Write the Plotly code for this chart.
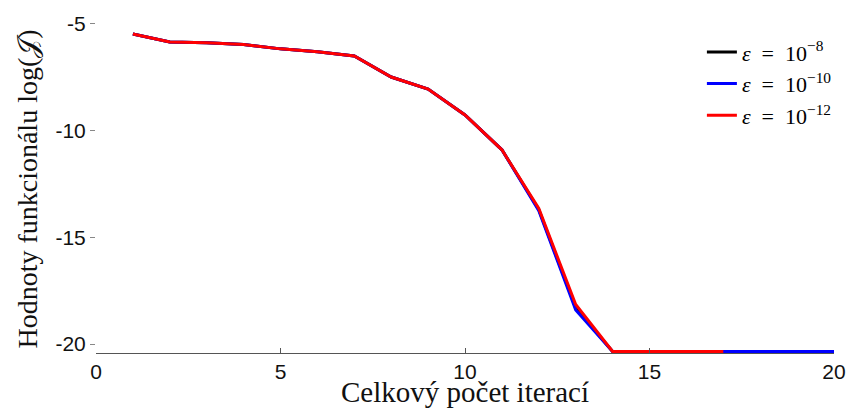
import plotly.graph_objects as go

iters = list(range(1, 21))
j_e8 = [-5.47, -5.85, -5.88, -5.97, -6.17, -6.3, -6.5, -7.49, -8.05, -9.27, -10.9, -13.7, -18.3, -20.35, -20.35, -20.35, -20.35, -20.35, -20.35]
j_e10 = [-5.47, -5.85, -5.88, -5.97, -6.17, -6.3, -6.5, -7.49, -8.05, -9.27, -10.9, -13.75, -18.4, -20.35, -20.35, -20.35, -20.35, -20.35, -20.35, -20.35]
j_e12 = [-5.47, -5.85, -5.88, -5.97, -6.17, -6.3, -6.5, -7.49, -8.05, -9.27, -10.9, -13.65, -18.15, -20.35, -20.35, -20.35, -20.35]

x_ticks = [0, 5, 10, 15, 20]
y_ticks = [-20, -15, -10, -5]
y_tick_text = ["-20", "-15", "-10", "-5"]

names = ["<i>ε</i>\u2002=\u200210<sup>−8</sup>", "<i>ε</i>\u2002=\u200210<sup>−10</sup>", "<i>ε</i>\u2002=\u200210<sup>−12</sup>"]
colors = ["#000000", "#0000ff", "#ff0000"]
series = [j_e8, j_e10, j_e12]

fig = go.Figure()
for name, col, ys in zip(names, colors, series):
    fig.add_trace(go.Scatter(x=iters[:len(ys)], y=ys, mode="lines", name=name,
                             line=dict(color=col, width=3)))

fig.update_layout(
    width=850, height=402,
    margin=dict(l=88, r=24, t=8, b=57),
    plot_bgcolor="white", paper_bgcolor="white",
    showlegend=True,
    legend=dict(x=0.821, y=0.955, xanchor="left", yanchor="top",
                font=dict(family="Liberation Serif", size=22, color="black"),
                bgcolor="rgba(0,0,0,0)", tracegroupgap=0, itemwidth=30),
    xaxis=dict(range=[0, 20], tickvals=x_ticks, automargin=False,
               showline=True, linecolor="#555", linewidth=1,
               ticks="inside", ticklen=5, tickcolor="#555",
               showgrid=False, zeroline=False,
               tickfont=dict(family="Liberation Sans", size=21, color="#111")),
    yaxis=dict(range=[-20.42, -4.63], tickvals=y_ticks, ticktext=y_tick_text, automargin=False,
               showline=False, ticks="outside", ticklen=5, tickcolor="#888",
               showgrid=False, zeroline=False,
               tickfont=dict(family="Liberation Sans", size=21, color="#111")),
    annotations=[
        dict(text="Celkový počet iterací", xref="paper", yref="paper",
             x=0.5, y=-0.1694, xanchor="center", yanchor="bottom", showarrow=False,
             font=dict(family="Liberation Serif", size=29, color="#111")),
        dict(text="Hodnoty funkcionálu log(𝒥)", xref="paper", yref="paper",
             x=-0.093, y=0.486, xanchor="center", yanchor="middle", showarrow=False,
             textangle=-90,
             font=dict(family="Liberation Serif", size=28, color="#111")),
    ],
)

fig.write_html("out.html")
